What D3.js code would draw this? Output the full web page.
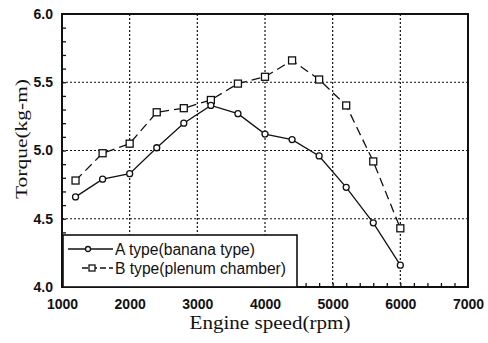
<!DOCTYPE html>
<html>
<head>
<meta charset="utf-8">
<script src="https://cdn.jsdelivr.net/npm/d3@7"></script>
<style>
  body { margin: 0; background: #fff; }
  svg { display: block; }
</style>
</head>
<body>
<div id="chart"></div>
<script>
// engine speed (rpm) and torque (kg-m)
const rpm = [1200, 1600, 2000, 2400, 2800, 3200, 3600, 4000, 4400, 4800, 5200, 5600, 6000];
const torqueA = [4.66, 4.79, 4.83, 5.02, 5.20, 5.33, 5.27, 5.12, 5.08, 4.96, 4.73, 4.47, 4.16];
const torqueB = [4.78, 4.98, 5.05, 5.28, 5.31, 5.37, 5.49, 5.54, 5.66, 5.52, 5.33, 4.92, 4.43];
const xTicks = [1000, 2000, 3000, 4000, 5000, 6000, 7000];
const yTicks = [4.0, 4.5, 5.0, 5.5, 6.0];
const legendLabels = ["A type(banana type)", "B type(plenum chamber)"];

const W = 488, H = 343;
const margin = { top: 14, right: 20, bottom: 56, left: 62 };
const w = W - margin.left - margin.right;
const h = H - margin.top - margin.bottom;

const svg = d3.select("#chart").append("svg")
  .attr("width", W)
  .attr("height", H);

const g = svg.append("g")
  .attr("transform", "translate(" + margin.left + "," + margin.top + ")");

const x = d3.scaleLinear().domain([1000, 7000]).range([0, w]);
const y = d3.scaleLinear().domain([4.0, 6.0]).range([h, 0]);

// dotted grid
g.append("g")
  .selectAll("line")
  .data(xTicks.slice(1, -1))
  .join("line")
  .attr("x1", d => x(d)).attr("x2", d => x(d))
  .attr("y1", 0).attr("y2", h)
  .attr("stroke", "#111").attr("stroke-width", 1.2)
  .attr("stroke-dasharray", "2,2");

g.append("g")
  .selectAll("line")
  .data(yTicks.slice(1, -1))
  .join("line")
  .attr("x1", 0).attr("x2", w)
  .attr("y1", d => y(d)).attr("y2", d => y(d))
  .attr("stroke", "#111").attr("stroke-width", 1.2)
  .attr("stroke-dasharray", "2,2");

// minor inward ticks
const yMinor = d3.range(41, 60).map(v => v / 10);
g.append("g")
  .call(d3.axisLeft(y).tickValues(yMinor).tickSize(-4).tickFormat(""))
  .call(s => s.select(".domain").remove())
  .selectAll("line").attr("stroke", "#111").attr("stroke-width", 1.3);

const xMinor = d3.range(1200, 7000, 200);
g.append("g")
  .attr("transform", "translate(0," + h + ")")
  .call(d3.axisBottom(x).tickValues(xMinor).tickSize(-4).tickFormat(""))
  .call(s => s.select(".domain").remove())
  .selectAll("line").attr("stroke", "#111").attr("stroke-width", 1.3);

// tick labels
g.append("g")
  .attr("transform", "translate(0," + h + ")")
  .call(d3.axisBottom(x).tickValues(xTicks).tickSize(0).tickPadding(12).tickFormat(d3.format("d")))
  .call(s => s.select(".domain").remove())
  .selectAll("text")
  .attr("font-family", "Liberation Sans, Arial, sans-serif")
  .attr("font-weight", "bold").attr("font-size", 14).attr("fill", "#111");

g.append("g")
  .call(d3.axisLeft(y).tickValues(yTicks).tickSize(0).tickPadding(9).tickFormat(d3.format(".1f")))
  .call(s => s.select(".domain").remove())
  .selectAll("text")
  .attr("font-family", "Liberation Sans, Arial, sans-serif")
  .attr("font-weight", "bold").attr("font-size", 14).attr("fill", "#111");

// frame
g.append("rect")
  .attr("width", w).attr("height", h)
  .attr("fill", "none").attr("stroke", "#111").attr("stroke-width", 2);

// series
const line = d3.line().x((d, i) => x(rpm[i])).y(d => y(d));

g.append("path")
  .datum(torqueB)
  .attr("d", line)
  .attr("fill", "none").attr("stroke", "#111").attr("stroke-width", 1.3)
  .attr("stroke-dasharray", "9,5");

g.append("path")
  .datum(torqueA)
  .attr("d", line)
  .attr("fill", "none").attr("stroke", "#111").attr("stroke-width", 1.3);

g.append("g")
  .selectAll("rect")
  .data(torqueB)
  .join("rect")
  .attr("x", (d, i) => x(rpm[i]) - 3.5)
  .attr("y", d => y(d) - 3.5)
  .attr("width", 7).attr("height", 7)
  .attr("fill", "#fff").attr("stroke", "#111").attr("stroke-width", 1.3);

g.append("g")
  .selectAll("circle")
  .data(torqueA)
  .join("circle")
  .attr("cx", (d, i) => x(rpm[i]))
  .attr("cy", d => y(d))
  .attr("r", 3)
  .attr("fill", "#fff").attr("stroke", "#111").attr("stroke-width", 1.3);

// legend
const lg = g.append("g").attr("transform", "translate(1," + (h - 52) + ")");
lg.append("rect")
  .attr("width", 234).attr("height", 52)
  .attr("fill", "#fff").attr("stroke", "#111").attr("stroke-width", 1.6);

const legendLen = [140, 171];
legendLabels.forEach((label, i) => {
  const ly = 14 + i * 19;
  lg.append("line")
    .attr("x1", i === 0 ? 5 : 19).attr("x2", 50).attr("y1", ly).attr("y2", ly)
    .attr("stroke", "#111").attr("stroke-width", 1.4)
    .attr("stroke-dasharray", i === 1 ? "6,3" : null);
  if (i === 0) {
    lg.append("circle").attr("cx", 25).attr("cy", ly).attr("r", 2.5)
      .attr("fill", "#fff").attr("stroke", "#111").attr("stroke-width", 1.3);
  } else {
    lg.append("rect").attr("x", 26).attr("y", ly - 3).attr("width", 6).attr("height", 6)
      .attr("fill", "#fff").attr("stroke", "#111").attr("stroke-width", 1.3);
  }
  lg.append("text")
    .attr("x", 52).attr("y", ly + 6)
    .attr("font-family", "Liberation Sans, Arial, sans-serif")
    .attr("font-size", 16).attr("fill", "#111")
    .attr("textLength", legendLen[i]).attr("lengthAdjust", "spacingAndGlyphs")
    .text(label);
});

// axis titles
svg.append("text")
  .attr("x", 270).attr("y", 329)
  .attr("text-anchor", "middle")
  .attr("font-family", "Liberation Serif, Times New Roman, serif")
  .attr("font-size", 18).attr("fill", "#111")
  .attr("textLength", 161).attr("lengthAdjust", "spacingAndGlyphs")
  .text("Engine speed(rpm)");

svg.append("text")
  .attr("transform", "translate(27,139) rotate(-90)")
  .attr("text-anchor", "middle")
  .attr("font-family", "Liberation Serif, Times New Roman, serif")
  .attr("font-size", 17).attr("fill", "#111")
  .attr("textLength", 120).attr("lengthAdjust", "spacingAndGlyphs")
  .text("Torque(kg-m)");
</script>
</body>
</html>
